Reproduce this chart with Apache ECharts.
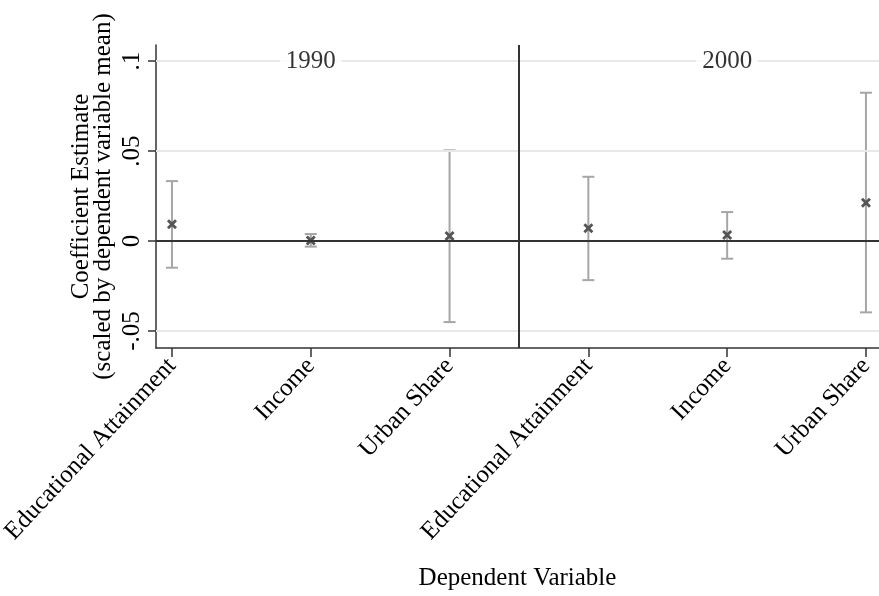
<!DOCTYPE html>
<html>
<head>
<meta charset="utf-8">
<script src="https://cdn.jsdelivr.net/npm/echarts@6/dist/echarts.min.js"></script>
<style>
  html, body { margin: 0; padding: 0; background: #fff; }
  #main { width: 879px; height: 596px; }
</style>
</head>
<body>
<div id="main"></div>
<script>
// dependent variables, repeated for the two census years
var categories = ['Educational Attainment', 'Income', 'Urban Share',
                  'Educational Attainment', 'Income', 'Urban Share']
var positions = [1, 2, 3, 4, 5, 6]
var estimates = [0.0093, 0.0003, 0.0028, 0.0071, 0.0034, 0.0213]
var ciLow = [-0.0148, -0.0031, -0.0450, -0.0217, -0.0098, -0.0396]
var ciHigh = [0.0333, 0.0039, 0.0504, 0.0357, 0.0161, 0.0824]
var yearLabels = ['1990', '2000']
var yearPos = [2, 5]
var yTicks = [-0.05, 0, 0.05, 0.1]
var yTickText = ['-.05', '0', '.05', '.1']

var font = 'Liberation Serif'
var fs = 25
var myChart = echarts.init(document.getElementById('main'))

var ciData = positions.map(function(p, i){ return [p, ciLow[i], ciHigh[i]] })
var ptData = positions.map(function(p, i){ return [p, estimates[i]] })

var xMark = 'path://M2,0 L5,3 L8,0 L10,2 L7,5 L10,8 L8,10 L5,7 L2,10 L0,8 L3,5 L0,2 Z'

var option = {
    animation: false,
    backgroundColor: '#fff',
    grid: { left: 156, right: 0, top: 45, bottom: 248, containLabel: false, outerBoundsMode: 'none' },
    xAxis: {
        type: 'value',
        min: 0.885,
        max: 6.094,
        name: 'Dependent Variable',
        nameLocation: 'middle',
        nameGap: 218,
        nameMoveOverlap: false,
        nameTextStyle: { fontFamily: font, fontSize: fs, color: '#000' },
        axisLine: { show: true, onZero: false, lineStyle: { color: '#333', width: 1.5 } },
        axisTick: { show: true, length: 9, customValues: positions, lineStyle: { color: '#333', width: 1.5 } },
        axisLabel: {
            customValues: positions,
            rotate: 47,
            margin: 14,
            fontFamily: font, fontSize: fs, color: '#000',
            formatter: function(v){ return categories[Math.round(v) - 1] }
        },
        splitLine: { show: false }
    },
    yAxis: {
        type: 'value',
        min: -0.0594,
        max: 0.1089,
        name: 'Coefficient Estimate\n(scaled by dependent variable mean)',
        nameLocation: 'middle',
        nameRotate: 90,
        nameGap: 42,
        nameMoveOverlap: false,
        nameTextStyle: { fontFamily: font, fontSize: fs, color: '#000', lineHeight: 22 },
        axisLine: { show: true, onZero: false, lineStyle: { color: '#333', width: 1.5 } },
        axisTick: { show: true, length: 8, customValues: yTicks, lineStyle: { color: '#333', width: 1.5 } },
        axisLabel: {
            customValues: yTicks,
            rotate: 90,
            margin: 11,
            fontFamily: font, fontSize: fs, color: '#000',
            formatter: function(v){
                var k = yTicks.findIndex(function(t){ return Math.abs(t - v) < 1e-9 })
                return k >= 0 ? yTickText[k] : ''
            }
        },
        splitLine: { show: false }
    },
    series: [
        {
            // reference lines: grid, zero line, year divider
            type: 'line',
            data: [],
            z: 1,
            markLine: {
                silent: true,
                symbol: 'none',
                label: { show: false },
                data: [
                    { yAxis: 0.1, lineStyle: { color: '#e8e8e8', width: 2, type: 'solid' } },
                    { yAxis: 0.05, lineStyle: { color: '#e8e8e8', width: 2, type: 'solid' } },
                    { yAxis: -0.05, lineStyle: { color: '#e8e8e8', width: 2, type: 'solid' } },
                    { yAxis: 0, lineStyle: { color: '#333', width: 2, type: 'solid' } },
                    { xAxis: 3.5, lineStyle: { color: '#333', width: 2, type: 'solid' } }
                ]
            }
        },
        {
            type: 'custom',
            z: 3,
            data: ciData,
            renderItem: function(params, api){
                var x = api.value(0)
                var lo = api.coord([x, api.value(1)])
                var hi = api.coord([x, api.value(2)])
                var w = 6
                var style = { stroke: '#a6a6a6', lineWidth: 2 }
                return {
                    type: 'group',
                    children: [
                        { type: 'line', shape: { x1: lo[0], y1: lo[1], x2: hi[0], y2: hi[1] }, style: style },
                        { type: 'line', shape: { x1: lo[0] - w, y1: lo[1], x2: lo[0] + w, y2: lo[1] }, style: style },
                        { type: 'line', shape: { x1: hi[0] - w, y1: hi[1], x2: hi[0] + w, y2: hi[1] }, style: style }
                    ]
                }
            }
        },
        {
            type: 'scatter',
            z: 4,
            data: ptData,
            symbol: xMark,
            symbolSize: 10,
            itemStyle: { color: '#555', opacity: 1 }
        },
        {
            type: 'scatter',
            z: 5,
            data: yearPos.map(function(p, i){ return { value: [p, 0.1], name: yearLabels[i] } }),
            symbolSize: 0,
            label: {
                show: true,
                position: 'inside',
                formatter: '{b}',
                fontFamily: font, fontSize: fs, color: '#000',
                backgroundColor: '#fff',
                padding: [2, 6]
            }
        }
    ]
}
myChart.setOption(option)
</script>
</body>
</html>
